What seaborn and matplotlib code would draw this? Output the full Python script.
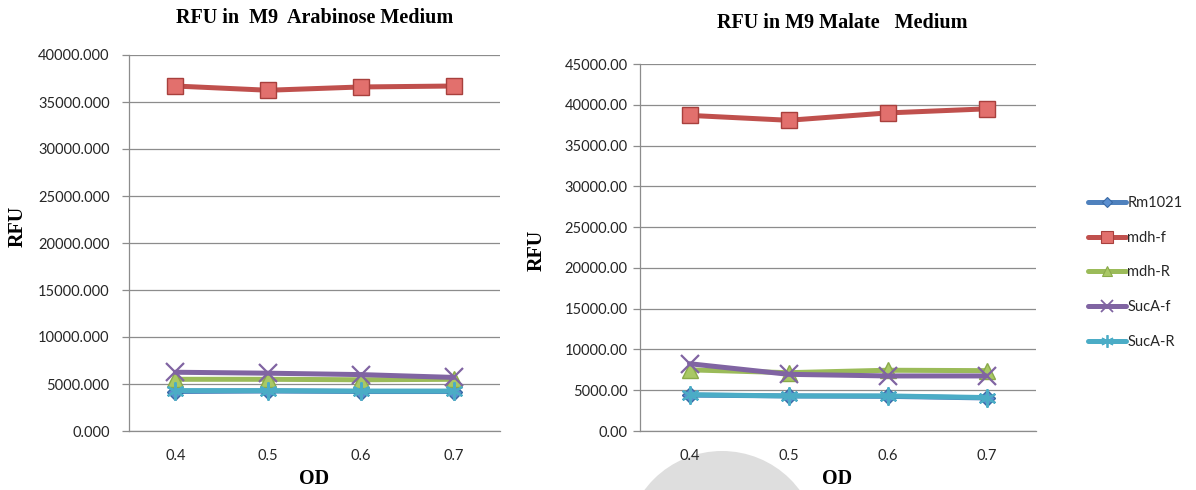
import numpy as np
import pandas as pd
import matplotlib
matplotlib.use('Agg')
import matplotlib.pyplot as plt
from matplotlib.lines import Line2D
from matplotlib.patches import Ellipse
from matplotlib.ticker import FixedLocator, FormatStrFormatter
import seaborn as sns

W, H = 1196, 490

OD = [0.4, 0.5, 0.6, 0.7]
SERIES = ['Rm1021', 'mdh-f', 'mdh-R', 'SucA-f', 'SucA-R']

# RFU in M9 Arabinose medium
arabinose_rm1021 = [4200, 4250, 4200, 4200]
arabinose_mdh_f = [36700, 36250, 36600, 36700]
arabinose_mdh_r = [5500, 5500, 5450, 5500]
arabinose_suca_f = [6250, 6150, 6000, 5700]
arabinose_suca_r = [4300, 4300, 4250, 4250]

# RFU in M9 Malate medium
malate_rm1021 = [4400, 4300, 4250, 4050]
malate_mdh_f = [38700, 38100, 39000, 39500]
malate_mdh_r = [7500, 7150, 7450, 7400]
malate_suca_f = [8250, 6950, 6750, 6750]
malate_suca_r = [4450, 4300, 4300, 4100]

STYLES = {
    'Rm1021': dict(color='#4F81BD', marker='D', markersize=8, mfc='#5B8FD0', mec='#3A6AA5', mew=1.0),
    'mdh-f': dict(color='#C0504D', marker='s', markersize=12, mfc='#E2706D', mec='#A8403D', mew=1.0),
    'mdh-R': dict(color='#9BBB59', marker='^', markersize=11, mfc='#A9C865', mec='#8AAA4A', mew=1.0),
    'SucA-f': dict(color='#8064A2', marker='x', markersize=13, mfc='#8064A2', mec='#8064A2', mew=1.6),
    'SucA-R': dict(color='#4BACC6', marker=(6, 2, 0), markersize=13, mfc='#4BACC6', mec='#4BACC6', mew=1.6),
}

GRID = '#8C8C8C'
TEXT = '#262626'
SERIF = ['Liberation Serif', 'DejaVu Serif']
SANS = ['Lato', 'DejaVu Sans']


def px_rect(x0, y0, x1, y1):
    return [x0 / W, 1 - y1 / H, (x1 - x0) / W, (y1 - y0) / H]


def draw_panel(ax, frame, ymax, fmt, label_pad):
    for name in SERIES:
        st = STYLES[name]
        sub = frame[frame['series'] == name]
        sns.lineplot(data=sub, x='OD', y='RFU', ax=ax, color=st['color'], linewidth=3.6,
                     marker=st['marker'], markersize=st['markersize'],
                     markerfacecolor=st['mfc'], markeredgecolor=st['mec'],
                     markeredgewidth=st['mew'], label=name, legend=False)
    ax.set_xlim(0.35, 0.75)
    ax.set_ylim(0, ymax)
    ax.set_yticks(np.arange(0, ymax + 1, 5000))
    ax.yaxis.set_major_formatter(FormatStrFormatter(fmt))
    ax.set_xticks(OD)
    ax.set_xticklabels([f'{v:.1f}' for v in OD])
    ax.xaxis.set_minor_locator(FixedLocator([0.35, 0.45, 0.55, 0.65, 0.75]))
    ax.tick_params(axis='x', which='major', length=0, pad=13, labelsize=10.5, labelcolor=TEXT)
    ax.tick_params(axis='x', which='minor', length=5, width=0.9, color=GRID, direction='out')
    ax.tick_params(axis='y', length=5, width=0.9, color=GRID, pad=label_pad, labelsize=10.5,
                   labelcolor=TEXT, left=True)
    for lab in ax.get_xticklabels() + ax.get_yticklabels():
        lab.set_fontfamily(SANS)
    ax.grid(axis='y', color=GRID, linewidth=0.9)
    ax.grid(axis='x', visible=False)
    ax.set_axisbelow(True)
    for side in ['top', 'right']:
        ax.spines[side].set_visible(False)
    for side in ['left', 'bottom']:
        ax.spines[side].set_color(GRID)
        ax.spines[side].set_linewidth(0.9)
    ax.set_xlabel('')
    ax.set_ylabel('')


def to_frame(values):
    rows = []
    for name, vals in zip(SERIES, values):
        for od, v in zip(OD, vals):
            rows.append({'series': name, 'OD': od, 'RFU': v})
    return pd.DataFrame(rows)


def main():
    sns.set_theme(style='white')
    plt.rcParams['font.family'] = SANS

    arabinose = to_frame([arabinose_rm1021, arabinose_mdh_f, arabinose_mdh_r,
                          arabinose_suca_f, arabinose_suca_r])
    malate = to_frame([malate_rm1021, malate_mdh_f, malate_mdh_r,
                       malate_suca_f, malate_suca_r])

    fig = plt.figure(figsize=(W / 100, H / 100), dpi=100)
    ax1 = fig.add_axes(px_rect(129, 55, 500, 431))
    ax2 = fig.add_axes(px_rect(640, 64, 1036, 431))

    draw_panel(ax1, arabinose, 40000, '%.3f', 9)
    draw_panel(ax2, malate, 45000, '%.2f', 4)

    def ftext(x, y, s, **kw):
        fig.text(x / W, 1 - y / H, s, ha='center', va='center', family=SERIF,
                 weight='bold', color='black', **kw)

    ftext(315, 18, 'RFU in  M9  Arabinose Medium', fontsize=14.5)
    ftext(842, 23, 'RFU in M9 Malate   Medium', fontsize=14.5)
    ftext(18, 226, 'RFU', fontsize=14.5, rotation=90)
    ftext(537, 250, 'RFU', fontsize=14.5, rotation=90)
    ftext(314, 479, 'OD', fontsize=14.5)
    ftext(837, 479, 'OD', fontsize=14.5)

    handles = []
    for name in SERIES:
        st = STYLES[name]
        handles.append(Line2D([], [], color=st['color'], linewidth=3.6, marker=st['marker'],
                              markersize=st['markersize'] * 0.7, markerfacecolor=st['mfc'],
                              markeredgecolor=st['mec'], markeredgewidth=st['mew'] * 0.8))
    fig.legend(handles, SERIES, loc='upper left', bbox_to_anchor=(1088 / W, 1 - 196 / H),
               frameon=False, borderpad=0, borderaxespad=0, handlelength=2.6,
               handletextpad=0.1, labelspacing=1.42, prop={'family': SANS, 'size': 10.5},
               labelcolor=TEXT)

    # grey shape at the bottom edge of the original screenshot
    fig.add_artist(Ellipse((722 / W, 1 - 546 / H), 192 / W, 190 / H,
                           transform=fig.transFigure, facecolor='#DEDEDE',
                           edgecolor='none', zorder=-1))

    fig.savefig('out.png', dpi=100)
    plt.close(fig)


if __name__ == '__main__':
    main()
